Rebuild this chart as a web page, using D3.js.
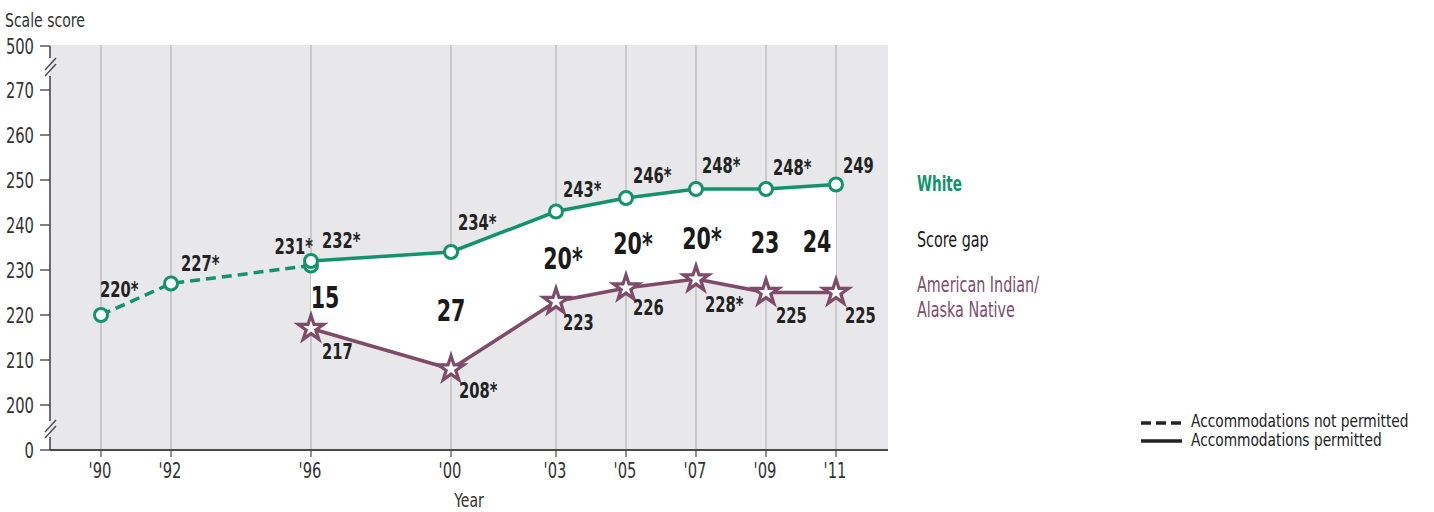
<!DOCTYPE html>
<html><head><meta charset="utf-8">
<script src="https://cdn.jsdelivr.net/npm/d3@7"></script>
<style>
html,body{margin:0;padding:0;background:#fff;}
svg{display:block;}
text{font-family:"DejaVu Sans Condensed","DejaVu Sans",sans-serif;font-stretch:semi-condensed;}
</style></head>
<body>
<svg id="chart" width="1434" height="512"></svg>
<script>
// ---- data ----
const yearTicks = [1990, 1992, 1996, 2000, 2003, 2005, 2007, 2009, 2011];
const yearTickLabels = ["'90", "'92", "'96", "'00", "'03", "'05", "'07", "'09", "'11"];
const yTicks = [0, 200, 210, 220, 230, 240, 250, 260, 270, 500];

const whiteNPYears = [1990, 1992, 1996];
const whiteNPValues = [220, 227, 231];
const whiteNPLabels = ["220*", "227*", "231*"];

const permYears = [1996, 2000, 2003, 2005, 2007, 2009, 2011];
const whiteValues = [232, 234, 243, 246, 248, 248, 249];
const whiteLabels = ["232*", "234*", "243*", "246*", "248*", "248*", "249"];
const aianValues = [217, 208, 223, 226, 228, 225, 225];
const aianLabels = ["217", "208*", "223", "226", "228*", "225", "225"];
const gapLabels = ["15", "27", "20*", "20*", "20*", "23", "24"];

// ---- layout (label nudges, px) ----
const whiteNPLabelOff = [[-1, -18], [10, -13], [2, -12]];
const whiteLabelOff = [[11, -13], [7, -22], [7, -15], [7, -15], [6, -16], [7, -14], [7, -12]];
const aianLabelOff = [[11, 30], [8, 29], [7, 28], [7, 27], [9, 33], [10, 30], [9, 30]];
const gapDx = [14, 0, 7, 7, 6, -1, -19];
const gapDy = [2, -1, 1, 0, 4, 1, 2];

const GREEN = "#12936e", PURPLE = "#7e4c6a";
const SX = 0.78; // horizontal squeeze to mimic a condensed typeface
const tf = (px, py, s) => `translate(${px},${py}) scale(${s === undefined ? SX : s},1)`;

const svg = d3.select("#chart");
const x = d3.scaleLinear().domain([1990, 2011]).range([101, 836]);
const y = d3.scaleLinear().domain([0, 200, 270, 500]).range([450, 405, 90, 46]);

const plotL = 50, plotR = 888, plotT = 45, plotB = 450;

function txt(px, py, str, size, fill, weight, anchor, s) {
  return svg.append("text").attr("transform", tf(px, py, s)).attr("font-size", size)
    .attr("fill", fill).attr("font-weight", weight || "normal").attr("text-anchor", anchor || "start").text(str);
}

// background
svg.append("rect").attr("x", plotL).attr("y", plotT).attr("width", plotR - plotL).attr("height", plotB - plotT).attr("fill", "#e8e8ea");

// gridlines
svg.append("g").selectAll("line").data(yearTicks).join("line")
  .attr("x1", d => x(d)).attr("x2", d => x(d)).attr("y1", plotT).attr("y2", plotB)
  .attr("stroke", "#a9a9ab").attr("stroke-width", 1);

// white gap area
const area = d3.area().x((d, i) => x(permYears[i])).y0((d, i) => y(aianValues[i])).y1((d, i) => y(whiteValues[i]));
svg.append("path").datum(permYears).attr("d", area).attr("fill", "#fff");

// axes
const axisCol = "#4a4a4a";
[[46, 58], [76, 421], [437, 450]].forEach(s => {
  svg.append("line").attr("x1", plotL).attr("x2", plotL).attr("y1", s[0]).attr("y2", s[1]).attr("stroke", axisCol).attr("stroke-width", 1.6);
});
[[58, 76], [421, 437]].forEach(s => {
  const m = (s[0] + s[1]) / 2;
  [-3, 3].forEach(o => {
    svg.append("line").attr("x1", plotL - 5).attr("x2", plotL + 6).attr("y1", m + o + 6).attr("y2", m + o - 6)
      .attr("stroke", axisCol).attr("stroke-width", 1.4);
  });
});
const yg = svg.append("g");
yg.selectAll("line").data(yTicks).join("line")
  .attr("x1", 40).attr("x2", plotL).attr("y1", d => y(d)).attr("y2", d => y(d))
  .attr("stroke", axisCol).attr("stroke-width", 1.4);
yg.selectAll("text").data(yTicks).join("text")
  .attr("transform", d => tf(34, y(d) + 7.5)).attr("text-anchor", "end")
  .attr("font-size", 21).attr("fill", "#333").text(d => d);

svg.append("line").attr("x1", plotL).attr("x2", plotR).attr("y1", plotB).attr("y2", plotB).attr("stroke", axisCol).attr("stroke-width", 2);
const xg = svg.append("g");
xg.selectAll("line").data(yearTicks).join("line")
  .attr("x1", d => x(d)).attr("x2", d => x(d)).attr("y1", plotB).attr("y2", plotB + 7)
  .attr("stroke", axisCol).attr("stroke-width", 1.2);
xg.selectAll("text").data(yearTicks).join("text")
  .attr("transform", d => tf(x(d) - 1, 478)).attr("text-anchor", "middle")
  .attr("font-size", 21).attr("fill", "#333").text((d, i) => yearTickLabels[i]);

txt(469, 507, "Year", 20, "#333", "normal", "middle");
txt(5, 27, "Scale score", 20, "#333");

// lines
const lineNP = d3.line().x((d, i) => x(whiteNPYears[i])).y(d => y(d));
svg.append("path").datum(whiteNPValues).attr("d", lineNP).attr("fill", "none")
  .attr("stroke", GREEN).attr("stroke-width", 3.5).attr("stroke-dasharray", "10,6");
const lineP = d3.line().x((d, i) => x(permYears[i])).y(d => y(d));
svg.append("path").datum(whiteValues).attr("d", lineP).attr("fill", "none").attr("stroke", GREEN).attr("stroke-width", 3.5);
svg.append("path").datum(aianValues).attr("d", lineP).attr("fill", "none").attr("stroke", PURPLE).attr("stroke-width", 3.5);

// markers
function circles(years, vals) {
  svg.append("g").selectAll("circle").data(vals).join("circle")
    .attr("cx", (d, i) => x(years[i])).attr("cy", d => y(d)).attr("r", 6.5)
    .attr("fill", "#fff").attr("stroke", GREEN).attr("stroke-width", 3);
}
circles(whiteNPYears, whiteNPValues);
circles(permYears, whiteValues);
const star = d3.symbol().type(d3.symbolStar).size(200);
svg.append("g").selectAll("path").data(aianValues).join("path")
  .attr("transform", (d, i) => `translate(${x(permYears[i])},${y(d)})`)
  .attr("d", star).attr("fill", "#fff").attr("stroke", PURPLE).attr("stroke-width", 3.2).attr("stroke-linejoin", "miter");

// value labels
function labels(years, vals, labs, offs, endIdx) {
  svg.append("g").selectAll("text").data(vals).join("text")
    .attr("transform", (d, i) => tf(x(years[i]) + offs[i][0], y(d) + offs[i][1]))
    .attr("text-anchor", (d, i) => i === endIdx ? "end" : "start")
    .attr("font-size", 21).attr("font-weight", "bold").attr("fill", "#222").text((d, i) => labs[i]);
}
labels(whiteNPYears, whiteNPValues, whiteNPLabels, whiteNPLabelOff, 2);
labels(permYears, whiteValues, whiteLabels, whiteLabelOff, -1);
labels(permYears, aianValues, aianLabels, aianLabelOff, -1);

// gap labels (centered between the two lines)
svg.append("g").selectAll("text").data(gapLabels).join("text")
  .attr("transform", (d, i) => tf(x(permYears[i]) + gapDx[i], (y(whiteValues[i]) + y(aianValues[i])) / 2 + gapDy[i] + 11, 0.74))
  .attr("text-anchor", "middle").attr("font-size", 31).attr("font-weight", "bold").attr("fill", "#1a1a1a")
  .text(d => d);

// right legend
txt(917, 191, "White", 21, GREEN, "bold", "start", 0.72);
txt(917, 247, "Score gap", 21, "#1a1a1a", "normal", "start", 0.76);
txt(917, 292, "American Indian/", 21, PURPLE, "normal", "start", 0.76);
txt(917, 317, "Alaska Native", 21, PURPLE, "normal", "start", 0.76);

// bottom legend
svg.append("line").attr("x1", 1141).attr("x2", 1182).attr("y1", 423).attr("y2", 423).attr("stroke", "#222").attr("stroke-width", 3.5).attr("stroke-dasharray", "10,5");
svg.append("line").attr("x1", 1141).attr("x2", 1182).attr("y1", 441).attr("y2", 441).attr("stroke", "#222").attr("stroke-width", 3.5);
txt(1191, 427, "Accommodations not permitted", 17, "#222", "normal", "start", 0.9);
txt(1191, 446, "Accommodations permitted", 17, "#222", "normal", "start", 0.9);
</script>
</body></html>
